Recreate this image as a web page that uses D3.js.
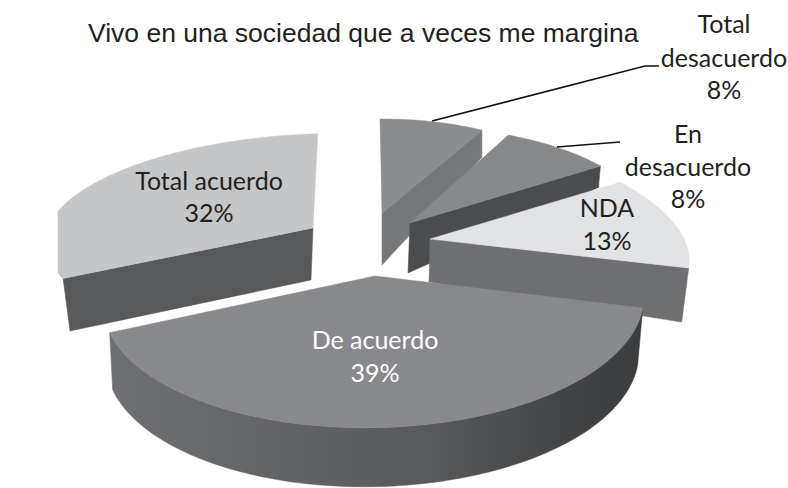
<!DOCTYPE html>
<html><head><meta charset="utf-8">
<script src="https://cdn.jsdelivr.net/npm/d3@7"></script>
<style>html,body{margin:0;padding:0;background:#fff}svg{display:block}</style>
</head><body><div id="c"></div>
<script>
const categories = ["Total desacuerdo","En desacuerdo","NDA","De acuerdo","Total acuerdo"];
const values = [8,8,13,39,32];
const titleText = "Vivo en una sociedad que a veces me margina";

// presentation only: perspective of each exploded slice
const views = [
 {ax:382,ay:213,A:[211,-1],B:[-2,-94],w:0,dx:0,dz:52,sx:1,sy:1.3,faces:["end"],top:"#8b8c8e",wall:"#77787a"},
 {ax:410,ay:223,A:[237,-6],B:[-18,-97],w:0,dx:-2,dz:50,sx:1,sy:1.5,faces:["end"],top:"#87888a",wall:"#4b4c4e"},
 {ax:430,ay:239,A:[255,2],B:[-47,-109],w:0,dx:-1,dz:43,sx:.977,sy:1.38,faces:["end"],top:"#e2e3e5",wall:"#6e6f71"},
 {ax:375,ay:276,A:[265,0],B:[8,-122],w:.196,dx:-1,dz:56,sx:.985,sy:1.02,faces:["rim"],top:"#88898d",wall:"url(#rimGrad)"},
 {ax:313,ay:228,A:[268,-8],B:[5,-99],w:.05,dx:-2,dz:52,sx:.964,sy:1.01,minX:58,faces:["start"],top:"#c5c6c8",wall:"#58595b"}
];
const labels = [
 {lines:["Total","desacuerdo","8%"],x:724,y:[33,67,99],fill:"#231f20"},
 {lines:["En","desacuerdo","8%"],x:688,y:[143,176,208],fill:"#231f20"},
 {lines:["NDA","13%"],x:607,y:[217,250],fill:"#231f20"},
 {lines:["De acuerdo","39%"],x:375,y:[349,382],fill:"#ffffff"},
 {lines:["Total acuerdo","32%"],x:209,y:[190,222],fill:"#231f20"}
];
const leaders = [
 [[432,121],[645,66],[659,66]],
 [[557,147],[620,142]]
];

const svg = d3.select("#c").append("svg").attr("width",788).attr("height",488);
const grad = svg.append("defs").append("linearGradient").attr("id","rimGrad")
  .attr("gradientUnits","userSpaceOnUse").attr("x1",108).attr("x2",640).attr("y1",0).attr("y2",0);
[[0,"#6f7073"],[.3,"#636466"],[.6,"#58595b"],[.85,"#434446"],[1,"#3c3d3f"]]
  .forEach(s=>grad.append("stop").attr("offset",s[0]).attr("stop-color",s[1]));

const arcs = d3.pie().sort(null).value(d=>d)(values);
const line = d3.line();

function topPt(v,t){
  const s=Math.sin(t),c=Math.cos(t),q=1+v.w*c;
  const x=v.ax+(v.A[0]*s+v.B[0]*c)/q;
  return [v.minX===undefined?x:Math.max(x,v.minX), v.ay+(v.A[1]*s+v.B[1]*c)/q];
}
function botPt(v,t){
  const p=topPt(v,t);
  return [v.ax+v.dx+(p[0]-v.ax)*v.sx, v.ay+v.dz+(p[1]-v.ay)*v.sy];
}
function sweep(a){
  const n=Math.max(2,Math.ceil((a.endAngle-a.startAngle)*60));
  return d3.range(n+1).map(i=>a.startAngle+(a.endAngle-a.startAngle)*i/n);
}

arcs.forEach((a,i)=>{
  const v=views[i], g=svg.append("g").attr("class","slice").attr("data-cat",categories[i]);
  const apexT=[v.ax,v.ay], apexB=[v.ax+v.dx,v.ay+v.dz];
  v.faces.forEach(f=>{
    let pts;
    if(f==="rim"){
      const ts=sweep(a);
      pts=ts.map(t=>topPt(v,t)).concat(ts.slice().reverse().map(t=>botPt(v,t)));
    } else {
      const t=f==="end"?a.endAngle:a.startAngle;
      pts=[apexT,topPt(v,t),botPt(v,t),apexB];
    }
    g.append("path").attr("d",line(pts)+"Z").attr("fill",v.wall).attr("stroke",v.wall).attr("stroke-width",.5);
  });
  const rim=sweep(a).map(t=>topPt(v,t));
  g.append("path").attr("d",line([apexT].concat(rim))+"Z").attr("fill",v.top).attr("stroke",v.top).attr("stroke-width",.5);
});

svg.selectAll("path.leader").data(leaders).enter().append("path").attr("class","leader")
  .attr("d",d=>line(d)).attr("fill","none").attr("stroke","#111").attr("stroke-width",1.6);

svg.append("text").attr("x",88).attr("y",42).text(titleText)
  .attr("font-family","'Liberation Sans',Arial,sans-serif").attr("font-size",26.5).attr("fill","#231f20");

labels.forEach(l=>{
  l.lines.forEach((t,j)=>{
    svg.append("text").attr("x",l.x).attr("y",l.y[j]).attr("text-anchor","middle").text(t)
      .attr("font-family","Lato,sans-serif").attr("font-size",25).attr("fill",l.fill);
  });
});
</script></body></html>
